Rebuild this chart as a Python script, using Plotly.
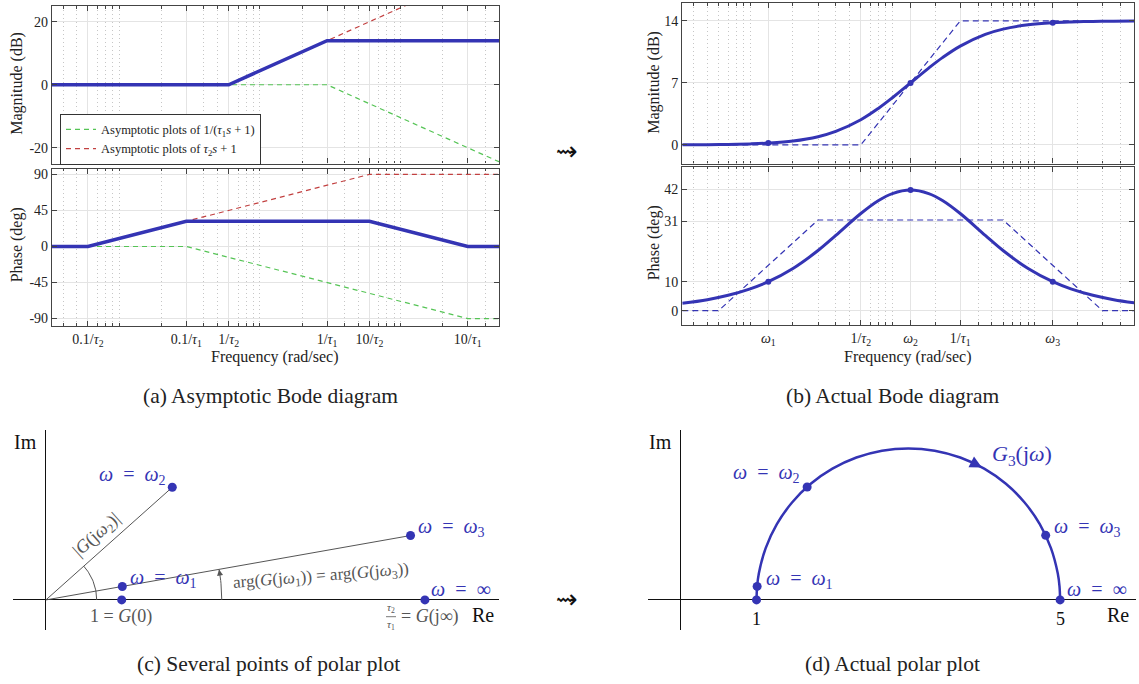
import numpy as np
import plotly.graph_objects as go

W, H = 1139, 684
def px(x): return x / W
def py(y): return 1 - y / H

BLUE = "#3434b4"
GREEN = "#55c455"
RED = "#c24040"
GRAY = "#555555"
FONT = "Liberation Serif"

# ---------------- data: (a) asymptotic Bode (tau1 = 1/3, tau2 = 5/3) ----------------
w_blue_mag = [1/30, 0.6, 3, 50]
mag_blue = [0, 0, 13.98, 13.98]
w_green_mag = [1/30, 3, 50]
mag_green = [0, 0, -24.44]
w_red_mag = [1/30, 0.6, 50]
mag_red = [0, 0, 38.42]
w_blue_ph = [1/30, 0.06, 0.3, 6, 30, 50]
ph_blue = [0, 0, 31.45, 31.45, 0, 0]
w_red_ph = [1/30, 0.06, 6, 50]
ph_red = [0, 0, 90, 90]
w_green_ph = [1/30, 0.3, 30, 50]
ph_green = [0, 0, -90, -90]

a_tickvals = [0.06, 0.3, 0.6, 3, 6, 30]
a_ticktext = ["0.1/<i>τ</i><sub>2</sub>", "0.1/<i>τ</i><sub>1</sub>", "1/<i>τ</i><sub>2</sub>",
              "1/<i>τ</i><sub>1</sub>", "10/<i>τ</i><sub>2</sub>", "10/<i>τ</i><sub>1</sub>"]

# ---------------- data: (b) actual Bode ----------------
w_act = [0.0333, 0.05, 0.07, 0.1, 0.1342, 0.2, 0.3, 0.4, 0.6, 0.8, 1.0, 1.342, 1.8,
         2.25, 3, 4.5, 6, 9, 13.42, 18, 25.7, 36, 54]
mag_act = [0.013, 0.029, 0.056, 0.114, 0.203, 0.438, 0.926, 1.521, 2.840, 4.139, 5.315,
           6.99, 8.664, 9.840, 11.139, 12.458, 13.053, 13.541, 13.776, 13.865, 13.923,
           13.950, 13.966]
ph_act = [2.54, 3.81, 5.32, 7.55, 10.04, 14.62, 20.85, 26.10, 33.69, 38.20, 40.60, 41.81,
          40.60, 38.20, 33.69, 26.10, 20.85, 14.62, 10.04, 7.55, 5.32, 3.81, 2.54]
w_mark = [0.1342, 1.342, 13.42]
mag_mark = [0.203, 6.99, 13.776]
ph_mark = [10.04, 41.81, 10.04]
b_tickvals = [0.1342, 0.6, 1.342, 3, 13.42]
b_ticktext = ["<i>ω</i><sub>1</sub>", "1/<i>τ</i><sub>2</sub>", "<i>ω</i><sub>2</sub>",
              "1/<i>τ</i><sub>1</sub>", "<i>ω</i><sub>3</sub>"]

# ---------------- data: (c), (d) polar ----------------
re_pts = [1, 1.008, 1.667, 4.81, 5]
im_pts = [0, 0.178, 1.491, 0.852, 0]
re_arc = [1, 1.0076, 1.0304, 1.1206, 1.2679, 1.4679, 1.7144, 2.0, 2.3160, 2.6527, 3.0,
          3.3473, 3.6840, 4.0, 4.2856, 4.5321, 4.7321, 4.8794, 4.9696, 4.9924, 5]
im_arc = [0, 0.1743, 0.3473, 0.6840, 1.0, 1.2856, 1.5321, 1.7321, 1.8794, 1.9696, 2.0,
          1.9696, 1.8794, 1.7321, 1.5321, 1.2856, 1.0, 0.6840, 0.3473, 0.1743, 0]

X_RANGE = [np.log10(1/30), np.log10(50)]
minor_vals = [k * 10.0**n for n in range(-2, 2) for k in range(1, 10)
              if 1/30 <= k * 10.0**n <= 50]

fig = go.Figure()

def ln(x, y, xa, ya, color, width, dash="solid", name=None, legend=False, shape="linear"):
    fig.add_trace(go.Scatter(x=x, y=y, xaxis=xa, yaxis=ya, mode="lines",
                             line=dict(color=color, width=width, dash=dash, shape=shape),
                             name=name, showlegend=legend, hoverinfo="skip"))

# (a) magnitude
ln(w_green_mag, mag_green, "x", "y", GREEN, 1.2, "5px,4px",
   "Asymptotic plots of 1/(<i>τ</i><sub>1</sub><i>s</i> + 1)", True)
ln(w_red_mag, mag_red, "x", "y", RED, 1.2, "5px,4px",
   "Asymptotic plots of <i>τ</i><sub>2</sub><i>s</i> + 1", True)
ln(w_blue_mag, mag_blue, "x", "y", BLUE, 3.5)
# (a) phase
ln(w_green_ph, ph_green, "x2", "y2", GREEN, 1.2, "5px,4px")
ln(w_red_ph, ph_red, "x2", "y2", RED, 1.2, "5px,4px")
ln(w_blue_ph, ph_blue, "x2", "y2", BLUE, 3.5)
# (b) magnitude
ln(w_blue_mag, mag_blue, "x3", "y3", BLUE, 1.2, "6px,4px")
ln(w_act, mag_act, "x3", "y3", BLUE, 3, shape="spline")
fig.add_trace(go.Scatter(x=w_mark, y=mag_mark, xaxis="x3", yaxis="y3", mode="markers",
                         marker=dict(color=BLUE, size=6), showlegend=False, hoverinfo="skip"))
# (b) phase
ln(w_blue_ph, ph_blue, "x4", "y4", BLUE, 1.2, "6px,4px")
ln(w_act, ph_act, "x4", "y4", BLUE, 3, shape="spline")
fig.add_trace(go.Scatter(x=w_mark, y=ph_mark, xaxis="x4", yaxis="y4", mode="markers",
                         marker=dict(color=BLUE, size=6), showlegend=False, hoverinfo="skip"))

# (c) several points
ln([0, re_pts[2]], [0, im_pts[2]], "x5", "y5", GRAY, 1)
ln([0, re_pts[3]], [0, im_pts[3]], "x5", "y5", GRAY, 1)
th1 = np.radians(np.linspace(0, 41.8, 30))
ln(0.67 * np.cos(th1), 0.67 * np.sin(th1), "x5", "y5", GRAY, 1)
th2 = np.radians(np.linspace(0, 10.0, 12))
ln(2.32 * np.cos(th2), 2.32 * np.sin(th2), "x5", "y5", GRAY, 1)
fig.add_trace(go.Scatter(x=re_pts, y=im_pts, xaxis="x5", yaxis="y5", mode="markers",
                         marker=dict(color=BLUE, size=9), showlegend=False, hoverinfo="skip",
                         cliponaxis=False))
# (d) actual polar plot
ln(re_arc, im_arc, "x6", "y6", BLUE, 2.5, shape="spline")
fig.add_trace(go.Scatter(x=re_pts, y=im_pts, xaxis="x6", yaxis="y6", mode="markers",
                         marker=dict(color=BLUE, size=9), showlegend=False, hoverinfo="skip",
                         cliponaxis=False))

frame = dict(showline=True, linecolor="#444", linewidth=1.3, mirror="ticks",
             ticks="inside", ticklen=5, tickcolor="#444",
             showgrid=True, gridcolor="#e4e4e4", gridwidth=1, zeroline=False,
             tickfont=dict(family=FONT, size=14, color="#222"), fixedrange=True)
minor = dict(tickmode="array", tickvals=minor_vals, ticks="inside", ticklen=2.5,
             tickcolor="#444", showgrid=True, gridcolor="#c6c6c6", griddash="1px,3px",
             gridwidth=1)

def xlog(dom, anchor, labels):
    d = dict(frame, type="log", range=X_RANGE, domain=dom, anchor=anchor, minor=minor)
    if labels is None:
        d.update(showticklabels=False)
    return d

blank = dict(showgrid=False, showticklabels=False, ticks="", showline=False,
             zeroline=True, zerolinecolor="#111", zerolinewidth=1.3, fixedrange=True)

ax_a = [px(52), px(499)]
ax_b = [px(682.3), px(1134)]
fig.update_layout(
    width=W, height=H, margin=dict(l=0, r=0, t=0, b=0),
    paper_bgcolor="white", plot_bgcolor="white",
    font=dict(family=FONT, size=14, color="#222"),
    xaxis=dict(xlog(ax_a, "y", None), tickvals=a_tickvals, ticktext=a_ticktext),
    yaxis=dict(frame, domain=[py(163), py(5)], anchor="x", range=[-25, 25],
               tickvals=[-20, 0, 20], ticktext=["-20", "0", "20"]),
    xaxis2=dict(xlog(ax_a, "y2", True), tickvals=a_tickvals, ticktext=a_ticktext),
    yaxis2=dict(frame, domain=[py(325.7), py(168.3)], anchor="x2", range=[-99, 97],
                tickvals=[-90, -45, 0, 45, 90], ticktext=["-90", "-45", "0", "45", "90"]),
    xaxis3=dict(xlog(ax_b, "y3", None), tickvals=b_tickvals, ticktext=b_ticktext),
    yaxis3=dict(frame, domain=[py(163), py(2)], anchor="x3", range=[-2.1, 16],
                tickvals=[0, 7, 14], ticktext=["0", "7", "14"]),
    xaxis4=dict(xlog(ax_b, "y4", True), tickvals=b_tickvals, ticktext=b_ticktext),
    yaxis4=dict(frame, domain=[py(325), py(166)], anchor="x4", range=[-5, 50],
                tickvals=[0, 10, 31, 42], ticktext=["0", "10", "31", "42"]),
    xaxis5=dict(blank, domain=[px(13), px(499.3)], anchor="y5", range=[-0.434, 5.981]),
    yaxis5=dict(blank, domain=[py(630.7), py(430)], anchor="x5", range=[-0.396, 2.252]),
    xaxis6=dict(blank, domain=[px(648.3), px(1136)], anchor="y6", range=[-0.426, 6.0]),
    yaxis6=dict(blank, domain=[py(630.7), py(430)], anchor="x6", range=[-0.395, 2.246]),
    legend=dict(x=px(60), y=py(113), xanchor="left", yanchor="top",
                bgcolor="white", bordercolor="#333", borderwidth=1,
                font=dict(family=FONT, size=12.5, color="#222"),
                tracegroupgap=0, itemwidth=30),
)

ann = []
def txt(x, y, s, size=14, color="#222", angle=0, xanchor="center", family=FONT):
    ann.append(dict(x=px(x), y=py(y), xref="paper", yref="paper", text=s, showarrow=False,
                    font=dict(family=family, size=size, color=color), textangle=angle,
                    xanchor=xanchor, yanchor="middle"))

# axis titles
txt(17, 83, "Magnitude (dB)", 16, angle=-90)
txt(17, 245, "Phase (deg)", 16, angle=-90)
txt(654, 82, "Magnitude (dB)", 16, angle=-90)
txt(654, 243, "Phase (deg)", 16, angle=-90)
txt(275, 357, "Frequency (rad/sec)", 16)
txt(908, 357, "Frequency (rad/sec)", 16)
# captions
txt(270, 396, "(a) Asymptotic Bode diagram", 21.5)
txt(892, 396, "(b) Actual Bode diagram", 21.5)
txt(268, 665, "(c) Several points of polar plot", 21.5)
txt(892, 665, "(d) Actual polar plot", 21.5)
# squiggle arrows
txt(567, 150, "⇝", 26, "#111", family="DejaVu Sans")
txt(567, 600, "⇝", 26, "#111", family="DejaVu Sans")

EQ = "\u2002=\u2002"
# (c) labels
txt(25, 442, "Im", 20, "#111")
txt(483, 616, "Re", 20, "#111")
txt(96.7, 476, "<i>ω</i>" + EQ + "<i>ω</i><sub>2</sub>", 20, BLUE, xanchor="left")
txt(128, 579, "<i>ω</i>" + EQ + "<i>ω</i><sub>1</sub>", 20, BLUE, xanchor="left")
txt(416, 528, "<i>ω</i>" + EQ + "<i>ω</i><sub>3</sub>", 20, BLUE, xanchor="left")
txt(429, 590, "<i>ω</i>" + EQ + "∞", 20, BLUE, xanchor="left")
txt(121, 617, "1 = <i>G</i>(0)", 18, GRAY)
txt(399, 617, "= <i>G</i>(j∞)", 18, GRAY, xanchor="left")
txt(391, 609, "<i>τ</i><sub>2</sub>", 11, GRAY)
txt(391, 626, "<i>τ</i><sub>1</sub>", 11, GRAY)
txt(97, 536, "|<i>G</i>(j<i>ω</i><sub>2</sub>)|", 18, GRAY, angle=-41.8)
txt(321, 578, "arg(<i>G</i>(j<i>ω</i><sub>1</sub>)) = arg(<i>G</i>(j<i>ω</i><sub>3</sub>))", 17,
    GRAY, angle=-4.5)
# (d) labels
txt(660.7, 442, "Im", 20, "#111")
txt(1118, 616, "Re", 20, "#111")
txt(764, 580, "<i>ω</i>" + EQ + "<i>ω</i><sub>1</sub>", 20, BLUE, xanchor="left")
txt(802, 474, "<i>ω</i>" + EQ + "<i>ω</i><sub>2</sub>", 20, BLUE, xanchor="right")
txt(1051.7, 528, "<i>ω</i>" + EQ + "<i>ω</i><sub>3</sub>", 20, BLUE, xanchor="left")
txt(1065, 590, "<i>ω</i>" + EQ + "∞", 20, BLUE, xanchor="left")
txt(990, 455, "<i>G</i><sub>3</sub>(j<i>ω</i>)", 22, BLUE, xanchor="left")
txt(756.7, 620, "1", 18, "#111")
txt(1060.7, 620, "5", 18, "#111")

# arrowheads
def arrow(xr, yr, x, y, ax, ay, color, width):
    ann.append(dict(x=x, y=y, ax=ax, ay=ay, xref=xr, yref=yr, axref=xr, ayref=yr,
                    text="", showarrow=True, arrowhead=2, arrowsize=1.2, arrowwidth=width,
                    arrowcolor=color, standoff=0, startstandoff=0))

t_end, t_tail = np.radians(41.8), np.radians(38)
arrow("x5", "y5", 0.67*np.cos(t_end), 0.67*np.sin(t_end),
      0.67*np.cos(t_tail), 0.67*np.sin(t_tail), GRAY, 1)
t_end, t_tail = np.radians(10.0), np.radians(8.5)
arrow("x5", "y5", 2.32*np.cos(t_end), 2.32*np.sin(t_end),
      2.32*np.cos(t_tail), 2.32*np.sin(t_tail), GRAY, 1)
t_end, t_tail = np.radians(61), np.radians(64)
arrow("x6", "y6", 3 + 2*np.cos(t_end), 2*np.sin(t_end),
      3 + 2*np.cos(t_tail), 2*np.sin(t_tail), BLUE, 2)

shapes = [dict(type="line", xref="paper", yref="paper", x0=px(386), x1=px(396),
               y0=py(617.5), y1=py(617.5), line=dict(color=GRAY, width=0.8))]
fig.update_layout(annotations=ann, shapes=shapes)

fig.write_html("out.html", post_script="document.body.style.margin='0px';",
               config={"displayModeBar": False})
